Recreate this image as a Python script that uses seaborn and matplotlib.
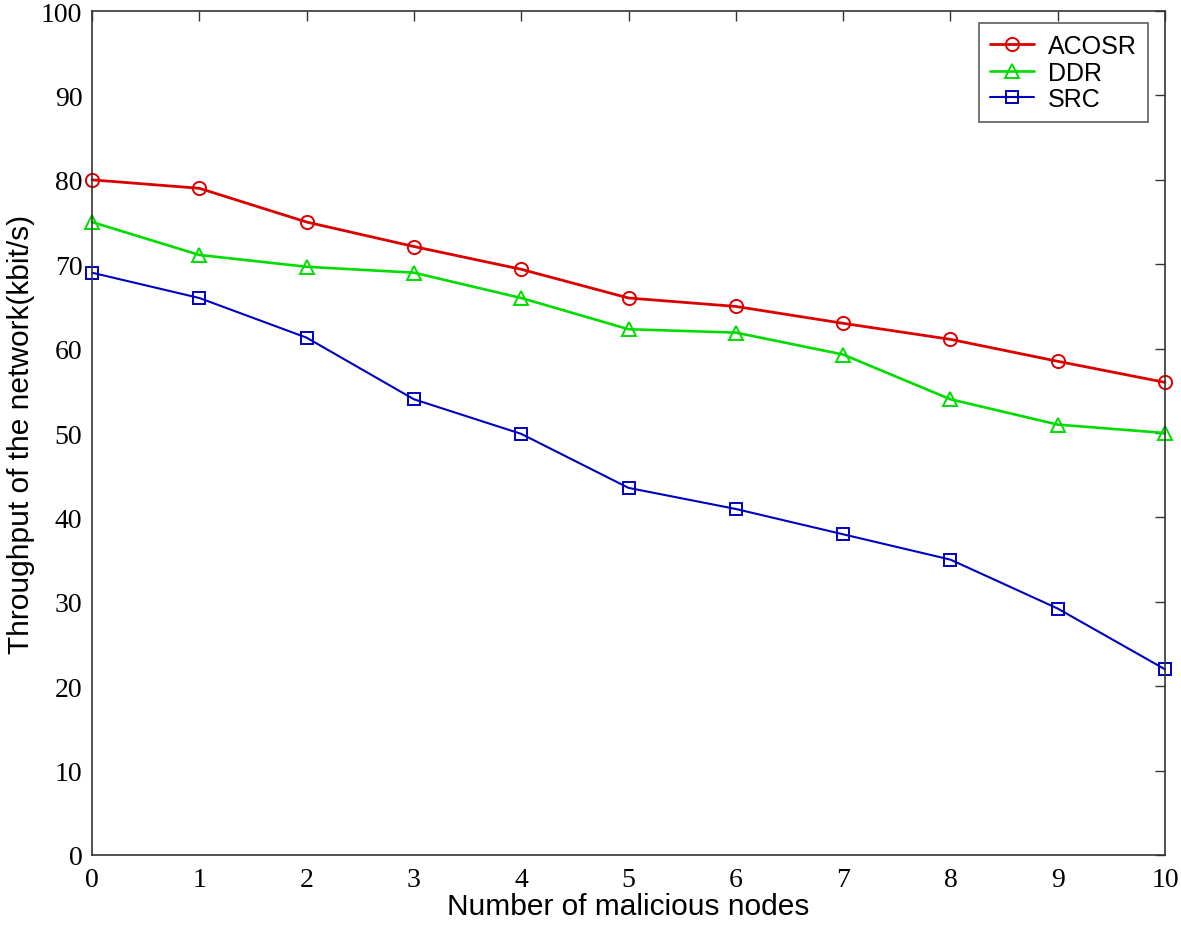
import matplotlib
matplotlib.use("Agg")
import matplotlib.pyplot as plt
import seaborn as sns
import pandas as pd

nodes = [0, 1, 2, 3, 4, 5, 6, 7, 8, 9, 10]
acosr = [80, 79, 75, 72.1, 69.4, 66, 65, 63, 61.1, 58.5, 56]
ddr = [75, 71.1, 69.7, 69.0, 66, 62.3, 61.9, 59.3, 54, 51, 50]
src = [69, 66, 61.3, 54, 49.9, 43.5, 41, 38, 35, 29.2, 22]
series_names = ["ACOSR", "DDR", "SRC"]
colors = ["#dc0000", "#00dc00", "#0000c0"]
markers = ["o", "^", "s"]
widths = [2.0, 1.9, 1.5]
msizes = [9.5, 10.5, 9.0]

df = pd.DataFrame({
    "x": nodes * 3,
    "y": acosr + ddr + src,
    "method": sum([[n] * len(nodes) for n in series_names], []),
})

sns.set_theme(style="white")
plt.rcParams["font.family"] = ["Liberation Serif", "DejaVu Sans"]

fig = plt.figure(figsize=(11.81, 9.28), dpi=100)
ax = fig.add_axes([0.0779, 0.0776, 0.9086, 0.9094])

for name, c, m, lw, ms in zip(series_names, colors, markers, widths, msizes):
    sub = df[df["method"] == name]
    sns.lineplot(data=sub, x="x", y="y", ax=ax, color=c, marker=m,
                 markersize=ms, markerfacecolor="none", markeredgecolor=c,
                 markeredgewidth=1.4, linewidth=lw, label=name, clip_on=False)

ax.set_xlim(0, 10)
ax.set_ylim(0, 100)
ax.set_xticks(range(0, 11))
ax.set_yticks(range(0, 101, 10))
ax.tick_params(direction="in", length=7, width=1, top=True, right=True,
               labelsize=20, colors="#333333", labelcolor="black", pad=7)
ax.tick_params(axis="x", pad=9)
for s in ax.spines.values():
    s.set_visible(True)
    s.set_color("#333333")
    s.set_linewidth(1.2)
ax.set_xlabel("Number of malicious nodes", fontsize=21.5, family=["Liberation Sans"],
              labelpad=0, color="black")
ax.set_ylabel("Throughput of the network(kbit/s)", fontsize=21.5, family=["Liberation Sans"],
              labelpad=4, color="black")

leg = ax.legend(loc="upper right", bbox_to_anchor=(0.984, 0.986), fontsize=18,
                frameon=True, fancybox=False, edgecolor="#333333",
                handlelength=1.75, handletextpad=0.55, borderpad=0.45,
                labelspacing=0.1, borderaxespad=0.0)
leg.get_frame().set_linewidth(1.2)
for t in leg.get_texts():
    t.set_fontfamily("Liberation Sans")
    t.set_color("black")

fig.savefig("out.png", dpi=100, facecolor="white")
